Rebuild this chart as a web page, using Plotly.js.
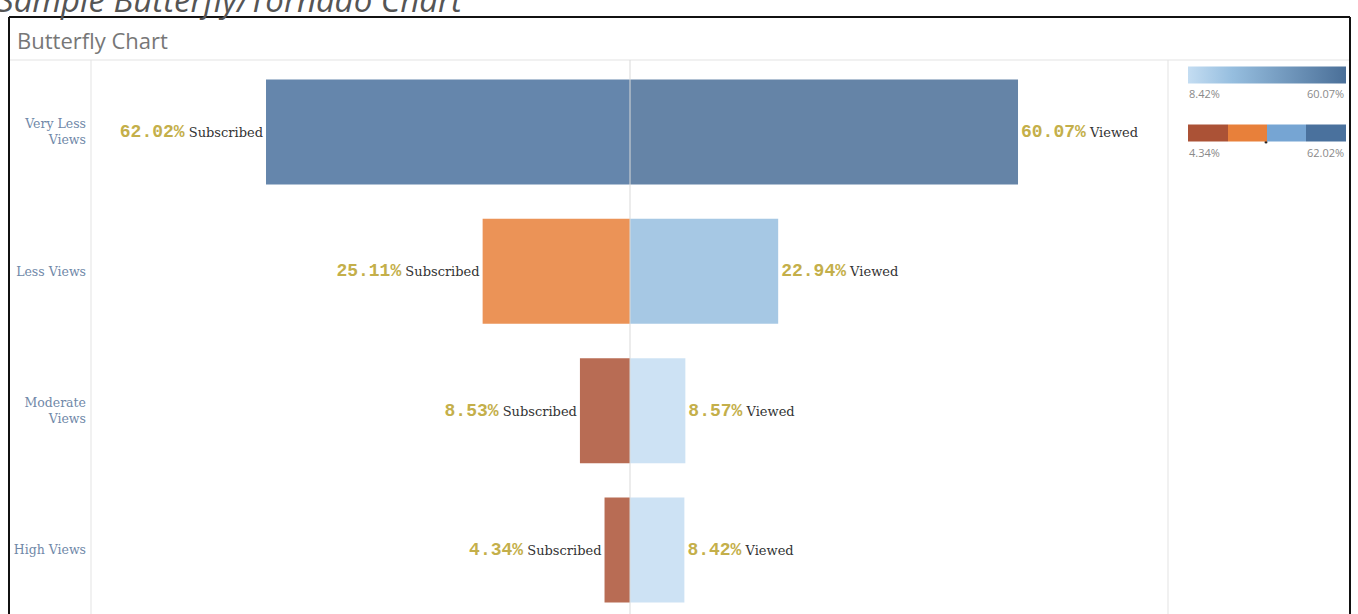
<!DOCTYPE html>
<html>
<head>
<meta charset="utf-8">
<script src="https://cdn.plot.ly/plotly-3.0.1.min.js"></script>
<style>html,body{margin:0;padding:0;background:#fff;}#chart{width:1358px;height:614px;}</style>
</head>
<body>
<div id="chart"></div>
<script>
const categories = ['Very Less Views', 'Less Views', 'Moderate Views', 'High Views'];
const tickLabels = ['Very Less<br>Views', 'Less Views', 'Moderate<br>Views', 'High Views'];
const subscribed = [62.02, 25.11, 8.53, 4.34];
const viewed = [60.07, 22.94, 8.57, 8.42];
const leftWord = 'Subscribed';
const rightWord = 'Viewed';
const pageTitle = 'Sample Butterfly/Tornado Chart';
const chartTitle = 'Butterfly Chart';

// layout geometry (pixels)
const FW = 1358, FH = 614;
const L = 92, T = 62, R = 1168, B = 614;
const W = R - L, H = B - T;
const px = x => (x - L) / W;
const py = y => (B - y) / H;

const subMin = Math.min(...subscribed), subMax = Math.max(...subscribed);
const viewMin = Math.min(...viewed), viewMax = Math.max(...viewed);

const numStyle = "font-family:Liberation Mono;font-weight:bold;font-size:18px;color:#C4AF4A";

const steppedScale = [
  [0, '#AB5236'], [0.25, '#AB5236'],
  [0.25, '#E8803A'], [0.5, '#E8803A'],
  [0.5, '#76A5D3'], [0.75, '#76A5D3'],
  [0.75, '#4A719D'], [1, '#4A719D']
];
const blueScale = [[0, '#C4DDF2'], [0.28, '#96BEDF'], [1, '#4A6F98']];

const cbCommon = {
  orientation: 'h', xref: 'paper', yref: 'paper',
  xanchor: 'center', yanchor: 'middle',
  len: 158, lenmode: 'pixels', thickness: 17, thicknessmode: 'pixels',
  outlinewidth: 0, showticklabels: false, ticks: '', xpad: 0, ypad: 0,
  bgcolor: 'rgba(0,0,0,0)'
};

const wordFont = {family: 'DejaVu Serif', size: 13, color: '#333333'};

const traces = [
  {
    type: 'bar', orientation: 'h', name: leftWord,
    y: categories, x: subscribed, xaxis: 'x', yaxis: 'y',
    width: 0.753,
    marker: {
      color: subscribed, colorscale: steppedScale, cmin: subMin, cmax: subMax,
      opacity: 0.85, line: {width: 0},
      showscale: true,
      colorbar: Object.assign({}, cbCommon, {x: px(1266.5), y: py(133.5)})
    },
    texttemplate: '<span style="' + numStyle + '">%{x:.2f}%</span> ' + leftWord,
    textposition: 'outside', constraintext: 'none', cliponaxis: false,
    textfont: wordFont,
    hoverinfo: 'skip'
  },
  {
    type: 'bar', orientation: 'h', name: rightWord,
    y: categories, x: viewed, xaxis: 'x2', yaxis: 'y',
    width: 0.753,
    marker: {
      color: viewed, colorscale: blueScale, cmin: viewMin, cmax: viewMax,
      opacity: 0.85, line: {width: 0},
      showscale: true,
      colorbar: Object.assign({}, cbCommon, {x: px(1266.5), y: py(74.5)})
    },
    texttemplate: '<span style="' + numStyle + '">%{x:.2f}%</span> ' + rightWord,
    textposition: 'outside', constraintext: 'none', cliponaxis: false,
    textfont: wordFont,
    hoverinfo: 'skip'
  }
];

const lineGray = '#E3E3E3';
const shapes = [
  // outer black frame
  {type: 'line', xref: 'paper', yref: 'paper', x0: px(9), x1: px(1350), y0: py(17), y1: py(17), line: {color: '#111', width: 2}},
  {type: 'line', xref: 'paper', yref: 'paper', x0: px(9), x1: px(9), y0: py(17), y1: py(616), line: {color: '#111', width: 2}},
  {type: 'line', xref: 'paper', yref: 'paper', x0: px(1350), x1: px(1350), y0: py(17), y1: py(616), line: {color: '#111', width: 2}},
  // header separator
  {type: 'line', xref: 'paper', yref: 'paper', x0: px(10), x1: px(1349), y0: py(60), y1: py(60), line: {color: lineGray, width: 1}},
  // row-label column border
  {type: 'line', xref: 'paper', yref: 'paper', x0: px(91), x1: px(91), y0: py(60), y1: py(616), line: {color: lineGray, width: 1}},
  // plot right border
  {type: 'line', xref: 'paper', yref: 'paper', x0: px(1168), x1: px(1168), y0: py(60), y1: py(616), line: {color: lineGray, width: 1}},
  // centre line
  {type: 'line', xref: 'paper', yref: 'paper', x0: 0.5, x1: 0.5, y0: py(60), y1: py(616), layer: 'above', line: {color: '#D9D9D9', width: 1}},
  // small marker in the stepped legend
  {type: 'circle', xref: 'paper', yref: 'paper', x0: px(1264.5), x1: px(1267.5), y0: py(140.5), y1: py(143.5), fillcolor: '#222', line: {width: 0}}
];

const legendFont = {family: 'Open Sans', size: 11, color: '#8A8A8A'};
const annotations = [
  {text: pageTitle, xref: 'paper', yref: 'paper', x: px(-5), y: py(-1), xanchor: 'left', yanchor: 'middle',
   showarrow: false, font: {family: 'Open Sans', size: 33, color: '#555', style: 'italic'}},
  {text: chartTitle, xref: 'paper', yref: 'paper', x: px(15), y: py(40), xanchor: 'left', yanchor: 'middle',
   showarrow: false, font: {family: 'Open Sans', size: 22, color: '#777'}},
  {text: viewMin.toFixed(2) + '%', xref: 'paper', yref: 'paper', x: px(1187), y: py(93), xanchor: 'left', yanchor: 'middle', showarrow: false, font: legendFont},
  {text: viewMax.toFixed(2) + '%', xref: 'paper', yref: 'paper', x: px(1346), y: py(93), xanchor: 'right', yanchor: 'middle', showarrow: false, font: legendFont},
  {text: subMin.toFixed(2) + '%', xref: 'paper', yref: 'paper', x: px(1187), y: py(153), xanchor: 'left', yanchor: 'middle', showarrow: false, font: legendFont},
  {text: subMax.toFixed(2) + '%', xref: 'paper', yref: 'paper', x: px(1346), y: py(153), xanchor: 'right', yanchor: 'middle', showarrow: false, font: legendFont}
];

const axisCommon = {showticklabels: false, showgrid: false, zeroline: false, showline: false, ticks: '', fixedrange: true};

const layout = {
  width: FW, height: FH,
  margin: {l: L, r: FW - R, t: T, b: FH - B, pad: 0, autoexpand: false},
  paper_bgcolor: '#ffffff', plot_bgcolor: 'rgba(0,0,0,0)',
  showlegend: false, barmode: 'overlay',
  xaxis: Object.assign({}, axisCommon, {domain: [0, 0.5], range: [91.67, 0], anchor: 'y'}),
  xaxis2: Object.assign({}, axisCommon, {domain: [0.5, 1], range: [0, 83.29], anchor: 'y'}),
  yaxis: {
    type: 'category', range: [3.459, -0.502], anchor: 'x',
    tickvals: categories, ticktext: tickLabels,
    tickfont: {family: 'DejaVu Serif', size: 12.5, color: '#7088A8'},
    showgrid: false, zeroline: false, showline: false, ticks: '', ticklabelstandoff: 5, fixedrange: true
  },
  shapes: shapes,
  annotations: annotations
};

Plotly.newPlot('chart', traces, layout, {displayModeBar: false, staticPlot: true});
</script>
</body>
</html>
